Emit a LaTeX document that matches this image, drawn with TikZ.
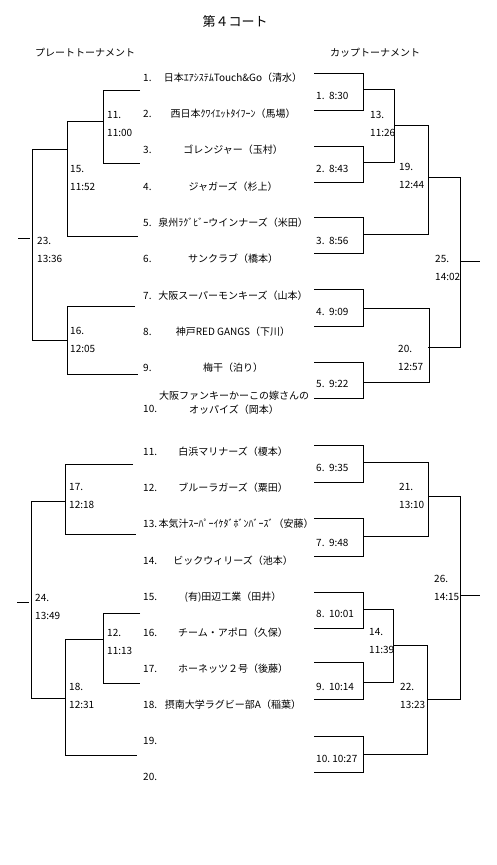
\documentclass[tikz,border=0pt]{standalone}
\usepackage{fontspec}
\setmainfont{Noto Sans CJK JP}
\newcommand\brk[4]{\draw[br] (#1,#3) -| (#2,#4) -- (#1,#4);}
\begin{document}
\begin{tikzpicture}[x=1pt,y=-1pt,
  lbl/.style={anchor=west,inner sep=0pt,font=\fontsize{10}{12}\selectfont},
  team/.style={anchor=center,inner sep=0pt,font=\fontsize{10}{12}\selectfont},
  br/.style={draw=black,line width=1pt}]
\useasboundingbox[fill=white] (0,0) rectangle (496,865);
% title and headers
\node[inner sep=0pt,font=\fontsize{13}{15}\selectfont] (title) at (235,22) {第４コート};
\node[lbl] (plate) at (35,53) {プレートトーナメント};
\node[lbl] (cup) at (330,53) {カップトーナメント};
% team list
\foreach \i/\y/\nm in {
 1/78/{日本ｴｱｼｽﾃﾑTouch\&Go（清水）},
 2/114/{西日本ｸﾜｲｴｯﾄﾀｲﾌｰﾝ（馬場）},
 3/150/{ゴレンジャー（玉村）},
 4/187/{ジャガーズ（杉上）},
 5/223/{泉州ﾗｸﾞﾋﾞｰウインナーズ（米田）},
 6/259/{サンクラブ（橋本）},
 7/296/{大阪スーパーモンキーズ（山本）},
 8/332/{神戸RED GANGS（下川）},
 9/368/{梅干（泊り）},
 11/452/{白浜マリナーズ（榎本）},
 12/488/{ブルーラガーズ（粟田）},
 14/561/{ビックウィリーズ（池本）},
 15/597/{(有)田辺工業（田井）},
 16/633/{チーム・アポロ（久保）},
 17/669/{ホーネッツ２号（後藤）},
 18/705/{摂南大学ラグビー部A（稲葉）}}{
  \node[lbl] (num\i) at (143,\y) {\i.};
  \node[team] (name\i) at (233,\y) {\nm};
}
\node[lbl] (num10) at (143,409) {10.};
\node[team] (name10a) at (234,396) {大阪ファンキーかーこの嫁さんの};
\node[team] (name10b) at (234,410) {オッパイズ（岡本）};
\node[lbl] (num13) at (143,524) {13.};
\node[team] (name13) at (236,524) {本気汁ｽｰﾊﾟｰｲｹﾀﾞﾎﾞﾝﾊﾞｰｽﾞ（安藤）};
\node[lbl] (num19) at (143,741) {19.};
\node[lbl] (num20) at (143,777) {20.};
% plate bracket, upper
\brk{140}{103}{90}{163}
\brk{103}{67}{121}{236}
\draw[br] (67,236) -- (138,236);
\brk{135}{67}{306}{374}
\draw[br] (67,374) -- (138,374);
\brk{67}{32}{149}{340}
\draw[br] (18,238) -- (30,238);
% plate bracket, lower
\brk{133}{65}{464}{534}
\draw[br] (65,534) -- (136,534);
\brk{140}{103}{613}{683}
\brk{103}{65}{639}{755}
\draw[br] (65,755) -- (137,755);
\brk{65}{31}{501}{698}
\draw[br] (17,602) -- (29,602);
% cup first round
\brk{314}{363}{73}{110}
\brk{314}{363}{146}{182}
\brk{314}{363}{217}{253}
\brk{314}{363}{289}{326}
\brk{314}{363}{362}{398}
\brk{314}{363}{445}{482}
\brk{314}{363}{518}{556}
\brk{314}{363}{592}{628}
\brk{314}{363}{662}{699}
\brk{314}{363}{736}{772}
% cup later rounds
\brk{363}{394}{89}{162}
\brk{394}{428}{125}{234}
\draw[br] (363,234) -- (394,234);
\brk{363}{429}{308}{382}
\brk{428}{460}{177}{347}
\draw[br] (460,261) -- (480,261);
\brk{363}{428}{462}{536}
\brk{363}{393}{609}{682}
\brk{393}{427}{645}{754}
\draw[br] (363,754) -- (393,754);
\brk{428}{460}{496}{699}
\draw[br] (460,595) -- (480,595);
% cup first round labels
\foreach \k/\y/\t in {1/96/{1.\ \ 8:30},2/169/{2.\ \ 8:43},3/241/{3.\ \ 8:56},4/312/{4.\ \ 9:09},5/384/{5.\ \ 9:22},
  6/468/{6.\ \ 9:35},7/543/{7.\ \ 9:48},8/614/{8.\ \ 10:01},9/687/{9.\ \ 10:14},10/759/{10.\ 10:27}}{
  \node[lbl] (cupm\k) at (316,\y) {\t};
}
% match labels
\foreach \m/\x/\y/\t in {11/107/115/11:00, 15/70/169/11:52, 16/70/331/12:05, 23/37/241/13:36,
  17/69/487/12:18, 24/35/598/13:49, 12/107/633/11:13, 18/69/687/12:31,
  13/370/115/11:26, 19/399/167/12:44, 25/435/259/14:02, 20/398/349/12:57,
  21/399/487/13:10, 14/369/632/11:39, 22/400/687/13:23, 26/434/579/14:15}{
  \node[lbl] (mn\m) at (\x,\y) {\m.};
  \node[lbl] (mt\m) at (\x,\y+18) {\t};
}
\end{tikzpicture}
\end{document}
